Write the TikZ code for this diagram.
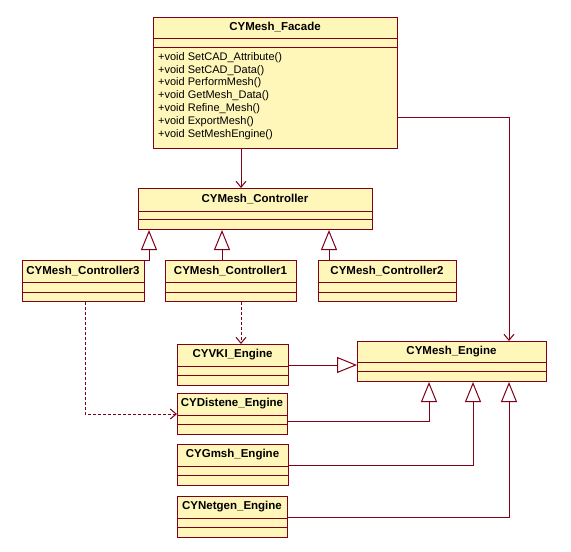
\documentclass[tikz,border=0pt]{standalone}
\usepackage{fontspec}
\setmainfont{Liberation Sans}
\usetikzlibrary{arrows.meta, positioning, calc}
\definecolor{RoseRed}{HTML}{800018}
\definecolor{RoseFill}{HTML}{FFF6BA}
% class box: id, left, top, right, bottom, split 1, split 2, title
\newcommand{\umlclass}[8]{%
  \node[classbox, anchor=north west, minimum width={(#4-#2)*1pt},
        minimum height={(#5-#3)*1pt}] (#1) at (#2,#3) {};
  \draw[RoseRed, line width=1pt] (#2,#6) -- (#4,#6) (#2,#7) -- (#4,#7);
  \node[classname] (#1-name) at ($(#2,#3)!0.5!(#4,#6)$) {#8};
}

\begin{document}
\begin{tikzpicture}[x=1pt, y=-1pt,
    classbox/.style={draw=RoseRed, fill=RoseFill, line width=1pt, inner sep=0pt},
    classname/.style={font=\fontsize{11.5}{13}\selectfont\bfseries, inner sep=0pt},
    inherit/.style={draw=RoseRed, line width=1pt,
        -{Triangle[open, length=20pt, width=16pt, fill=white]}},
    assoc/.style={draw=RoseRed, line width=1pt, -{Straight Barb[length=6pt, width=10pt]}},
    depend/.style={assoc, dash pattern=on 3pt off 2pt}]
    \useasboundingbox (0,0) rectangle (571,552);

    % Facade and controllers
    \umlclass{facade}{153}{17}{397}{148}{38}{47}{CYMesh\_Facade}
    \node[anchor=north west, align=left, inner sep=0pt,
          font=\fontsize{11}{12.9}\selectfont] (facade-ops) at (158,52) {
        +void SetCAD\_Attribute()\\
        +void SetCAD\_Data()\\
        +void PerformMesh()\\
        +void GetMesh\_Data()\\
        +void Refine\_Mesh()\\
        +void ExportMesh()\\
        +void SetMeshEngine()
    };
    \umlclass{ctrl}{138}{188}{372}{229}{211}{219}{CYMesh\_Controller}
    \umlclass{c3}{22}{260}{144}{301}{282}{292}{CYMesh\_Controller3}
    \umlclass{c1}{165}{260}{296}{301}{282}{292}{CYMesh\_Controller1}
    \umlclass{c2}{318}{260}{456}{301}{282}{292}{CYMesh\_Controller2}

    % Engines
    \umlclass{meng}{357}{341}{546}{381}{362}{371}{CYMesh\_Engine}
    \foreach \id/\t/\r/\title in {vki/344/288/CYVKI\_Engine,
                                  dist/393/287/CYDistene\_Engine,
                                  gmsh/444/288/CYGmsh\_Engine,
                                  netgen/496/287/CYNetgen\_Engine} {
        \umlclass{\id}{177}{\t}{\r}{\t+41}{\t+22}{\t+31}{\title}
    }

    % Helper points for the connector columns
    \coordinate (axis) at (241,0);
    \coordinate (rcol) at (509,117);
    \coordinate (g3) at ($(ctrl.south west)+(11,0)$);
    \coordinate (g1) at ($(c1.north west)+(57,0)$);
    \coordinate (g2) at ($(c2.north west)+(11,0)$);
    \coordinate (gd) at ($(meng.south west)+(72,0)$);
    \coordinate (gg) at ($(meng.south west)+(116,0)$);
    \coordinate (d3) at ($(c3.south west)+(63,0)$);

    % Associations
    \draw[assoc] (facade.south -| axis) -- (ctrl.north -| axis);
    \draw[assoc] (facade.east |- rcol) -| (meng.north -| rcol);

    % Generalizations
    \draw[inherit] (c3.north east) -| (g3);
    \draw[inherit] (g1) -- (g1 |- ctrl.south);
    \draw[inherit] (g2) -- (g2 |- ctrl.south);
    \draw[inherit] (vki.east) -- (vki.east -| meng.west);
    \draw[inherit] ($(dist.east)+(0,7)$) -| (gd);
    \draw[inherit] (gmsh.east) -| (gg);
    \draw[inherit] (netgen.east) -| (meng.south -| rcol);

    % Dependencies
    \draw[depend] (c1.south -| axis) -- (vki.north -| axis);
    \draw[depend] (d3) |- (dist.west);
\end{tikzpicture}
\end{document}
